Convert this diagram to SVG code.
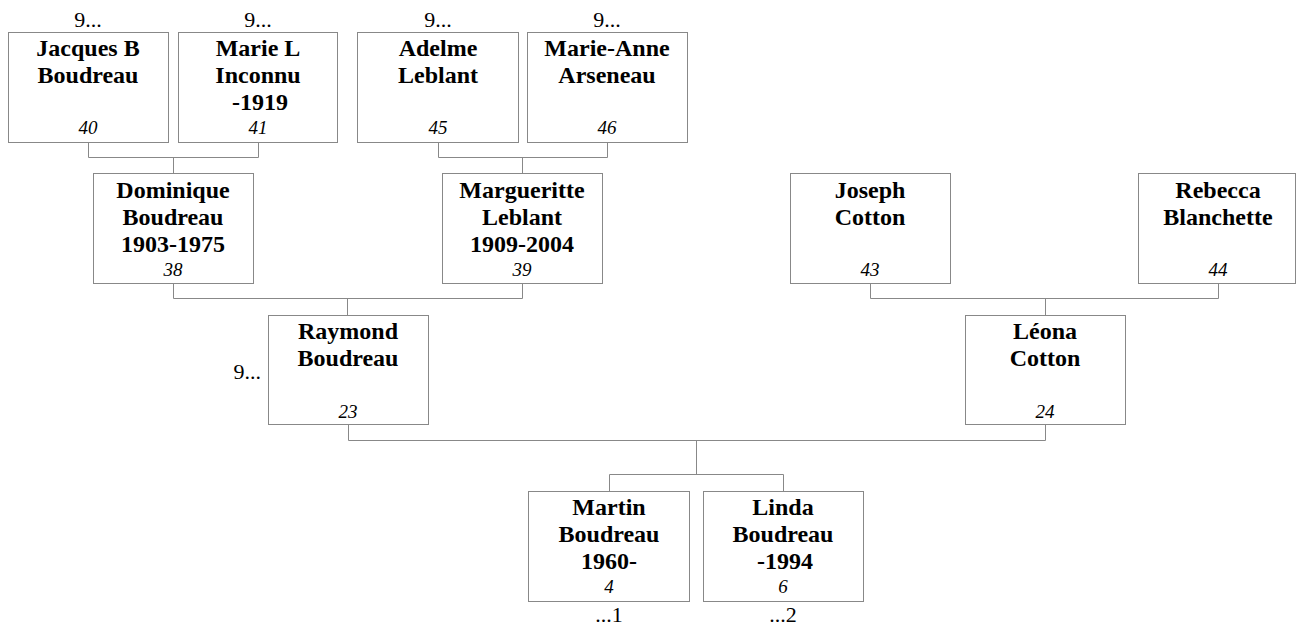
<svg xmlns="http://www.w3.org/2000/svg" width="1296" height="630" viewBox="0 0 1296 630">
<style>
rect{fill:#fff;stroke:#888;stroke-width:1}
.c path{fill:none;stroke:#888;stroke-width:1}
text{font-family:"Liberation Serif","Times New Roman",serif;fill:#000;text-anchor:middle}
.n{font-weight:bold;font-size:24px}
.k{font-style:italic;font-size:19px}
.m{font-size:22px}
</style>
<rect x="0" y="0" width="1296" height="630" style="stroke:none"/>
<g class="c" id="connectors">
<path d="M88.5 142V157.5H258.5V142M173.5 157.5V173"/>
<path d="M438.5 142V157.5H607.5V142M522.5 157.5V173"/>
<path d="M173.5 283V298.5H522.5V283M347.5 298.5V315"/>
<path d="M870.5 283V298.5H1218.5V283M1045.5 298.5V315"/>
<path d="M348.5 424V440.5H1045.5V424M696.5 440.5V474.5M609.5 491V474.5H783.5V491"/>
</g>
<g id="p40"><rect x="8.5" y="32.5" width="160" height="110"/><text class="m" x="88" y="27">9...</text><text class="n" x="88" y="56">Jacques B</text><text class="n" x="88" y="83">Boudreau</text><text class="k" x="88" y="134">40</text></g>
<g id="p41"><rect x="178.5" y="32.5" width="159" height="110"/><text class="m" x="258" y="27">9...</text><text class="n" x="258" y="56">Marie L</text><text class="n" x="258" y="83">Inconnu</text><text class="n" x="260" y="110">-1919</text><text class="k" x="258" y="134">41</text></g>
<g id="p45"><rect x="357.5" y="32.5" width="161" height="110"/><text class="m" x="438" y="27">9...</text><text class="n" x="438" y="56">Adelme</text><text class="n" x="438" y="83">Leblant</text><text class="k" x="438" y="134">45</text></g>
<g id="p46"><rect x="527.5" y="32.5" width="160" height="110"/><text class="m" x="607" y="27">9...</text><text class="n" x="607" y="56">Marie-Anne</text><text class="n" x="607" y="83">Arseneau</text><text class="k" x="607" y="134">46</text></g>
<g id="p38"><rect x="93.5" y="173.5" width="160" height="110"/><text class="n" x="173" y="198">Dominique</text><text class="n" x="173" y="225">Boudreau</text><text class="n" x="173" y="252">1903-1975</text><text class="k" x="173" y="276">38</text></g>
<g id="p39"><rect x="442.5" y="173.5" width="160" height="110"/><text class="n" x="522" y="198">Margueritte</text><text class="n" x="522" y="225">Leblant</text><text class="n" x="522" y="252">1909-2004</text><text class="k" x="522" y="276">39</text></g>
<g id="p43"><rect x="790.5" y="173.5" width="160" height="110"/><text class="n" x="870" y="198">Joseph</text><text class="n" x="870" y="225">Cotton</text><text class="k" x="870" y="276">43</text></g>
<g id="p44"><rect x="1138.5" y="173.5" width="157" height="110"/><text class="n" x="1218" y="198">Rebecca</text><text class="n" x="1218" y="225">Blanchette</text><text class="k" x="1218" y="276">44</text></g>
<g id="p23"><rect x="268.5" y="315.5" width="160" height="109"/><text class="m" x="261" y="379" style="text-anchor:end">9...</text><text class="n" x="348" y="339">Raymond</text><text class="n" x="348" y="366">Boudreau</text><text class="k" x="348" y="418">23</text></g>
<g id="p24"><rect x="965.5" y="315.5" width="160" height="109"/><text class="n" x="1045" y="339">Léona</text><text class="n" x="1045" y="366">Cotton</text><text class="k" x="1045" y="418">24</text></g>
<g id="p4"><rect x="528.5" y="491.5" width="161" height="110"/><text class="n" x="609" y="515">Martin</text><text class="n" x="609" y="542">Boudreau</text><text class="n" x="609" y="569">1960-</text><text class="k" x="609" y="593">4</text><text class="m" x="609" y="622">...1</text></g>
<g id="p6"><rect x="703.5" y="491.5" width="160" height="110"/><text class="n" x="783" y="515">Linda</text><text class="n" x="783" y="542">Boudreau</text><text class="n" x="785" y="569">-1994</text><text class="k" x="783" y="593">6</text><text class="m" x="783" y="622">...2</text></g>
</svg>
